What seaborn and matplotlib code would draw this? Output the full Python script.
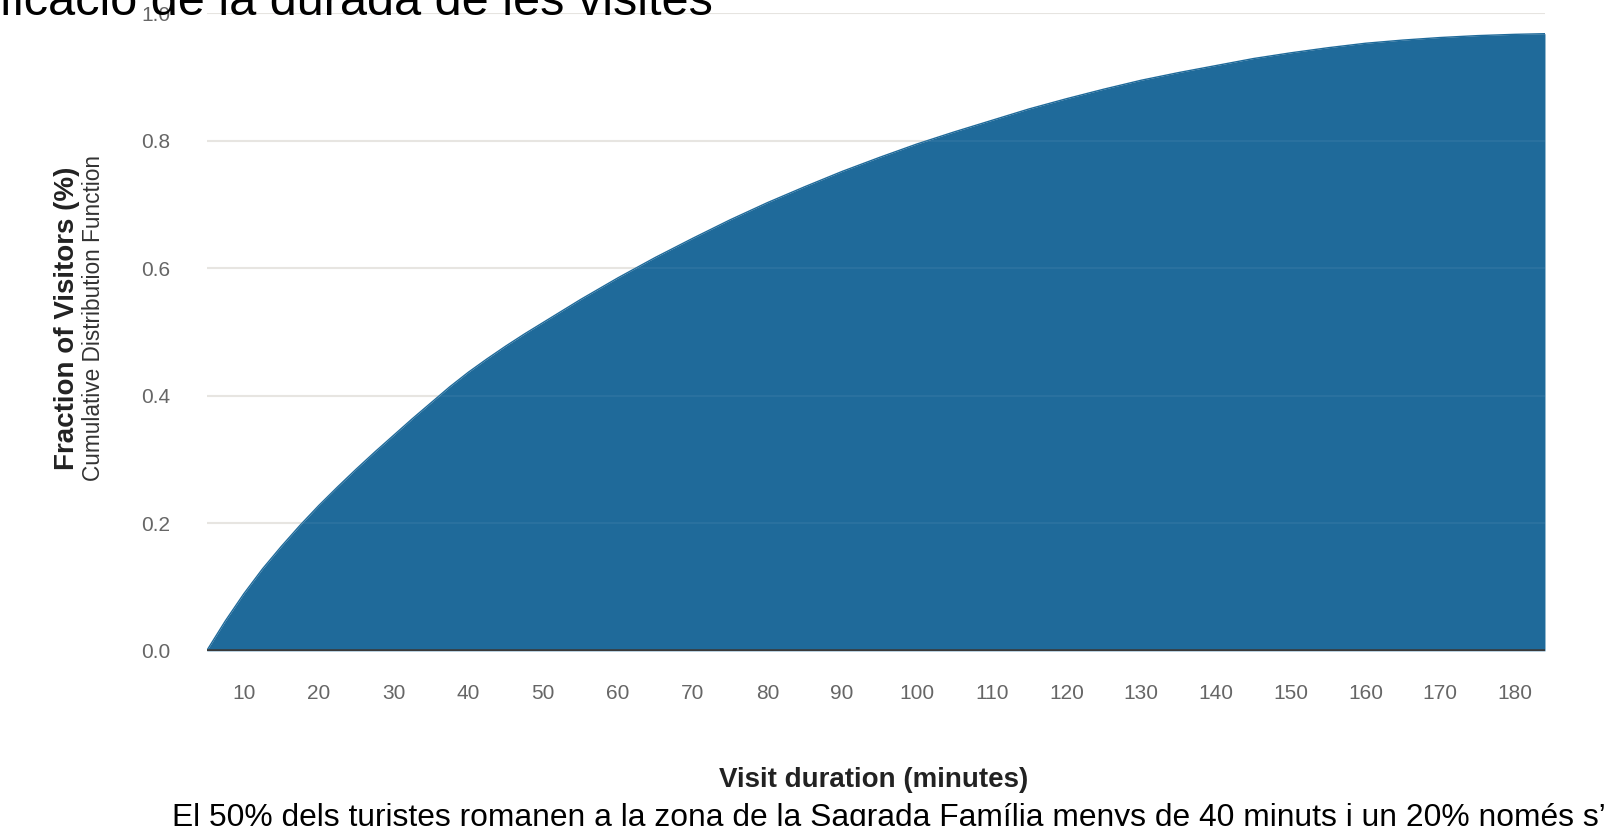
import numpy as np
import pandas as pd
import matplotlib
matplotlib.use('Agg')
import matplotlib.pyplot as plt
import seaborn as sns

sns.set_theme(style='white')
plt.rcParams['font.family'] = ['Liberation Sans', 'DejaVu Sans']

# minuts de visita i fraccio acumulada de visitants (llegit del grafic)
durada = [5, 7.5, 10, 12.5, 15, 17.5, 20, 22.5, 25, 27.5, 30, 32.5, 35, 37.5, 40,
          42.5, 45, 47.5, 50, 55, 60, 65, 70, 75, 80, 85, 90, 95, 100, 105, 110,
          115, 120, 125, 130, 135, 140, 145, 150, 155, 160, 165, 170, 175, 180, 184]
fraccio = [0.0, 0.047, 0.09, 0.129, 0.164, 0.197, 0.228, 0.257, 0.285, 0.312, 0.338,
           0.364, 0.389, 0.414, 0.437, 0.458, 0.478, 0.497, 0.515, 0.551, 0.585,
           0.617, 0.647, 0.676, 0.703, 0.728, 0.752, 0.774, 0.795, 0.814, 0.832,
           0.85, 0.866, 0.881, 0.895, 0.907, 0.918, 0.929, 0.938, 0.946, 0.953,
           0.958, 0.962, 0.965, 0.967, 0.968]
xticks = list(range(10, 181, 10))
yticks = [0.0, 0.2, 0.4, 0.6, 0.8, 1.0]

titol = 'Quantificació de la durada de les visites'
peu = 'El 50% dels turistes romanen a la zona de la Sagrada Família menys de 40 minuts i un 20% només s’'

df = pd.DataFrame({'durada': durada, 'fraccio': fraccio})
blau = '#1f6a9a'

fig = plt.figure(figsize=(16.07, 8.26), dpi=100)
ax = fig.add_axes([0.1286, 0.2121, 0.8328, 0.7718])

sns.lineplot(data=df, x='durada', y='fraccio', color=blau, lw=1, ax=ax)
ax.fill_between(df['durada'], df['fraccio'], color=blau, lw=0)

ax.set_xlim(5, 184)
ax.set_ylim(0, 1)
ax.set_xticks(xticks)
ax.set_yticks(yticks)
ax.set_yticklabels(['{:.1f}'.format(v) for v in yticks])
ax.tick_params(length=0, labelsize=15, labelcolor='#666666')
ax.tick_params(axis='y', pad=26)
ax.tick_params(axis='x', pad=24)

ax.grid(axis='y', color='#e6e4e0', lw=1.5)
ax.set_axisbelow(True)
# la graella es veu lleugerament per sobre de l'area
for v in yticks[1:-1]:
    ax.axhline(v, color='white', alpha=0.05, lw=1.5, zorder=3)
ax.axhline(0, color='#3a3a3a', lw=2.6, zorder=4)
sns.despine(ax=ax, left=True, bottom=True, top=True, right=True)
ax.set_xlabel('')
ax.set_ylabel('')

fig.text(0.5436, 0.0557, 'Visit duration (minutes)', ha='center', va='center',
         fontsize=20, fontweight='bold', color='#222222')
fig.text(0.0417, 0.615, 'Fraction of Visitors (%)', rotation=90, ha='center', va='center',
         fontsize=20, fontweight='bold', color='#222222')
fig.text(0.0579, 0.615, 'Cumulative Distribution Function', rotation=90, ha='center',
         va='center', fontsize=16.3, color='#333333')

fig.text(-0.0895, 0.9818, titol, ha='left', va='baseline', fontsize=35, color='black')
fig.text(0.1068, 0.0006, peu, ha='left', va='baseline', fontsize=22.9, color='black')

fig.savefig('out.png', dpi=100)
